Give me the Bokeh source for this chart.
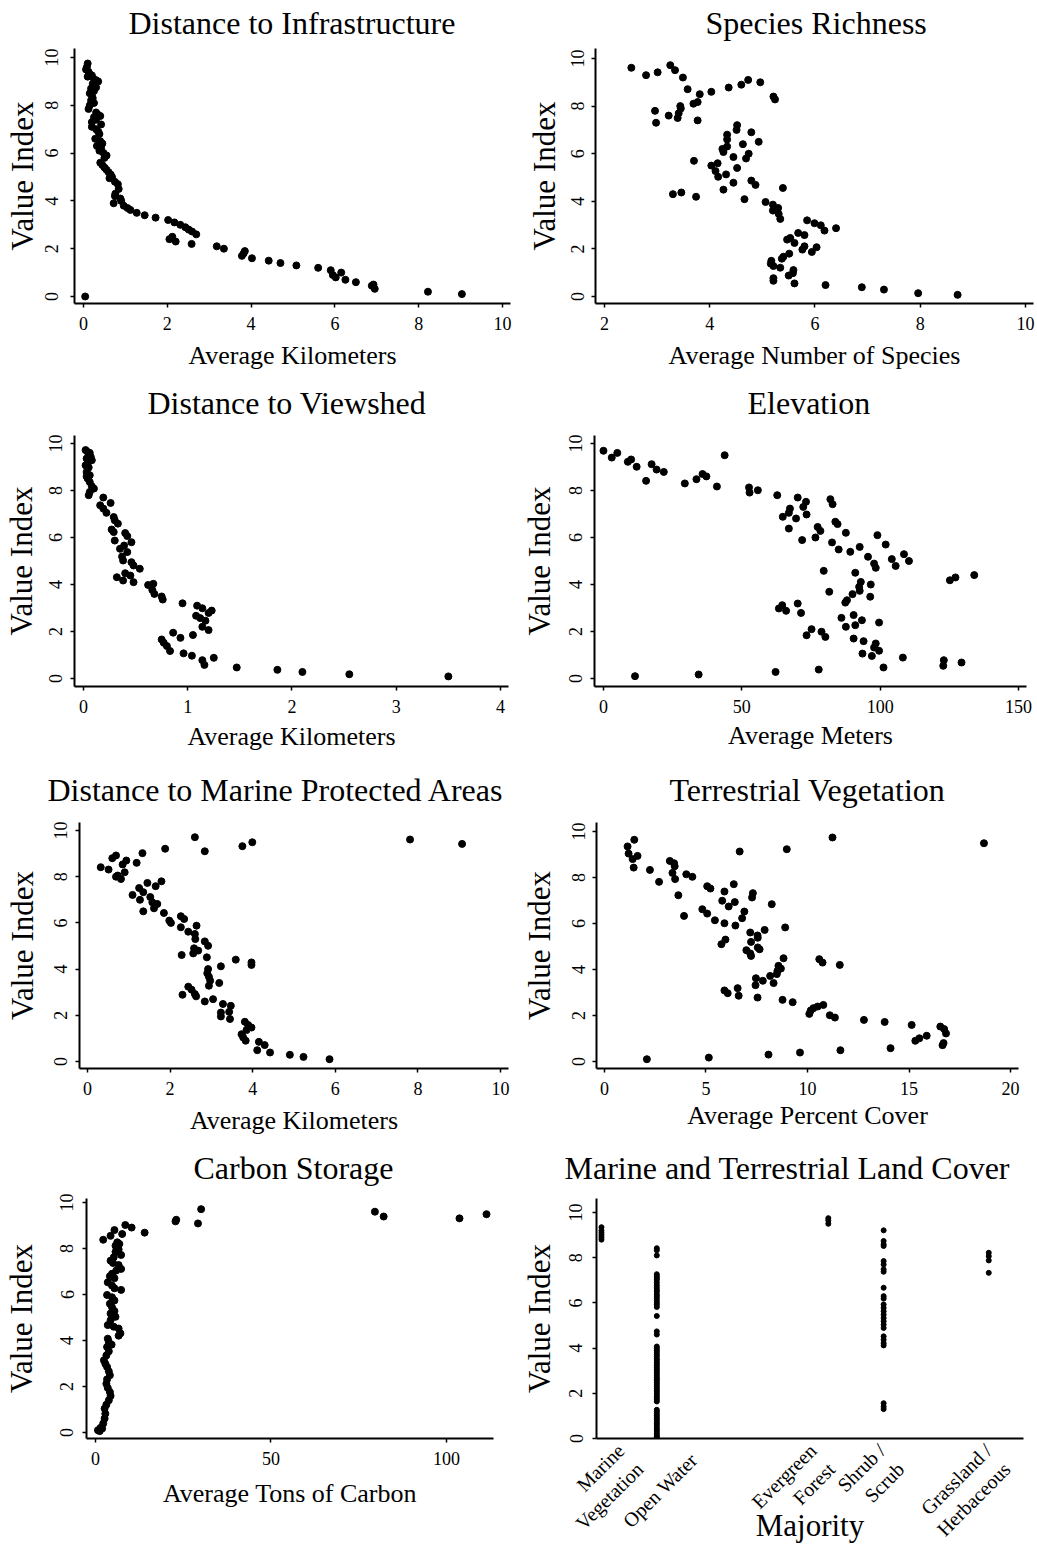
import math
from bokeh.plotting import figure
from bokeh.layouts import column, row
from bokeh.models import FixedTicker, Range1d, Title, LinearAxis
from bokeh.embed import file_html
from bokeh.resources import INLINE

FONT = "Liberation Serif"

# ---------------- data (x value, value index) ----------------
INFRA = [(0.04, 0.0), (0.10, 9.75), (0.08, 9.6), (0.06, 9.5), (0.12, 9.4), (0.15, 9.3), (0.10, 9.2), (0.20, 9.25),
         (0.25, 9.1), (0.30, 9.05), (0.35, 9.0), (0.22, 8.9), (0.28, 8.8), (0.18, 8.7), (0.30, 8.75), (0.25, 8.6),
         (0.15, 8.5), (0.20, 8.4), (0.22, 8.3), (0.18, 8.2), (0.25, 8.1), (0.15, 8.0), (0.12, 7.85), (0.30, 7.7),
         (0.35, 7.6), (0.40, 7.55), (0.25, 7.5), (0.30, 7.4), (0.20, 7.3), (0.42, 7.2), (0.20, 7.1), (0.30, 7.0),
         (0.35, 6.9), (0.38, 6.8), (0.28, 6.6), (0.40, 6.5), (0.45, 6.4), (0.32, 6.3), (0.42, 6.2), (0.38, 6.1),
         (0.48, 6.0), (0.55, 5.9), (0.50, 5.8), (0.40, 5.6), (0.45, 5.5), (0.50, 5.4), (0.55, 5.3), (0.60, 5.2),
         (0.65, 5.1), (0.68, 5.0), (0.62, 4.95), (0.75, 4.8), (0.82, 4.7), (0.84, 4.5), (0.76, 4.3), (0.75, 4.2),
         (0.88, 4.1), (0.90, 4.0), (0.72, 3.9), (0.96, 3.8), (1.05, 3.7), (1.12, 3.62), (1.27, 3.5), (1.46, 3.4),
         (1.72, 3.3), (2.02, 3.2), (2.17, 3.1), (2.31, 3.0), (2.43, 2.9), (2.51, 2.8), (2.59, 2.72), (2.69, 2.6),
         (2.05, 2.4), (2.12, 2.5), (2.20, 2.3), (2.58, 2.2), (3.18, 2.1), (3.35, 2.0), (3.85, 1.9), (3.82, 1.8),
         (3.78, 1.7), (4.02, 1.6), (4.42, 1.5), (4.70, 1.4), (5.08, 1.3), (5.60, 1.2), (5.90, 1.1), (6.15, 1.0),
         (5.95, 0.9), (6.02, 0.8), (6.25, 0.7), (6.50, 0.6), (6.88, 0.45), (6.92, 0.5), (6.95, 0.32), (8.22, 0.2),
         (9.03, 0.1)]

SPECIES = [(2.51, 9.61), (2.79, 9.3), (3.01, 9.42), (3.25, 9.72), (3.34, 9.51), (3.49, 9.2), (3.58, 8.71), (3.81, 8.5),
           (4.03, 8.6), (4.36, 8.78), (4.60, 8.9), (4.73, 9.1), (4.96, 9.0), (5.21, 8.4), (5.24, 8.28), (2.96, 7.8),
           (2.98, 7.3), (3.22, 7.6), (3.44, 8.0), (3.45, 7.9), (3.41, 7.7), (3.39, 7.5), (3.69, 8.1), (3.77, 8.17),
           (3.77, 7.4), (4.52, 7.2), (4.51, 7.0), (4.33, 6.8), (4.33, 6.6), (4.79, 6.9), (4.93, 6.5), (4.63, 6.4),
           (4.24, 6.2), (4.26, 6.07), (4.33, 6.3), (4.45, 5.86), (4.74, 6.0), (4.69, 5.8), (3.70, 5.7), (4.03, 5.5),
           (4.15, 5.6), (4.11, 5.27), (4.16, 5.03), (4.31, 5.13), (4.52, 5.4), (4.45, 4.78), (4.79, 4.87), (4.87, 4.69),
           (5.39, 4.56), (4.26, 4.49), (3.30, 4.3), (3.46, 4.37), (3.74, 4.19), (4.66, 4.09), (5.06, 3.97), (5.20, 3.86),
           (5.30, 3.72), (5.20, 3.61), (5.34, 3.26), (5.31, 3.47), (5.85, 3.2), (5.99, 3.08), (6.11, 2.99), (6.18, 2.77),
           (6.40, 2.87), (5.68, 2.67), (5.80, 2.58), (5.47, 2.39), (5.53, 2.46), (5.61, 2.25), (5.80, 2.11), (5.76, 1.97),
           (6.03, 2.07), (5.94, 1.87), (5.40, 1.67), (5.37, 1.59), (5.51, 1.8), (5.17, 1.5), (5.16, 1.38), (5.21, 1.28),
           (5.34, 1.21), (5.59, 1.11), (5.58, 0.98), (5.50, 0.88), (5.21, 0.77), (5.21, 0.66), (5.61, 0.55), (6.20, 0.48),
           (6.89, 0.39), (7.31, 0.29), (7.96, 0.14), (8.71, 0.07)]

VIEWSHED = [(0.02, 9.72), (0.04, 9.64), (0.06, 9.6), (0.07, 9.43), (0.03, 9.36), (0.08, 9.29), (0.04, 9.15), (0.05, 8.98),
            (0.03, 8.79), (0.06, 8.65), (0.04, 8.51), (0.06, 8.36), (0.08, 8.18), (0.10, 8.08), (0.06, 7.94), (0.05, 7.8),
            (0.02, 9.07), (0.03, 8.6), (0.19, 7.7), (0.26, 7.47), (0.16, 7.37), (0.19, 7.23), (0.22, 7.05), (0.29, 6.87),
            (0.30, 6.73), (0.33, 6.59), (0.27, 6.34), (0.29, 6.23), (0.40, 6.19), (0.42, 6.06), (0.30, 5.87), (0.46, 5.8),
            (0.39, 5.66), (0.35, 5.52), (0.42, 5.38), (0.37, 5.19), (0.38, 5.02), (0.46, 4.95), (0.48, 4.81), (0.54, 4.67),
            (0.40, 4.48), (0.45, 4.38), (0.32, 4.31), (0.38, 4.17), (0.48, 4.1), (0.62, 3.98), (0.67, 4.03), (0.66, 3.77),
            (0.68, 3.6), (0.75, 3.49), (0.76, 3.36), (0.95, 3.2), (1.09, 3.1), (1.14, 2.99), (1.08, 2.67), (1.12, 2.57),
            (1.17, 2.46), (1.23, 2.89), (1.20, 2.79), (1.14, 2.2), (1.20, 2.06), (0.86, 1.95), (0.93, 1.73), (1.05, 1.85),
            (0.75, 1.66), (0.77, 1.52), (0.80, 1.38), (0.83, 1.17), (0.96, 1.07), (1.04, 0.97), (1.14, 0.78), (1.16, 0.58),
            (1.25, 0.88), (1.47, 0.47), (1.86, 0.37), (2.10, 0.28), (2.55, 0.18), (3.50, 0.09)]

ELEVATION = [(0, 9.69), (3, 9.4), (5, 9.6), (8.8, 9.22), (10, 9.32), (12, 9.01), (17.4, 9.12), (19.2, 8.89), (21.8, 8.79),
             (15.4, 8.41), (29.4, 8.3), (33.6, 8.48), (35.8, 8.7), (37.2, 8.6), (43.8, 9.5), (41, 8.17), (52.6, 8.13),
             (52.8, 7.91), (55.8, 8.01), (62.8, 7.8), (70.2, 7.7), (73.2, 7.52), (72.2, 7.3), (73.4, 6.98), (67.4, 7.23),
             (67, 7.05), (64.8, 6.88), (69.6, 6.81), (67, 6.38), (71.8, 5.89), (82, 7.63), (82.8, 7.42), (83.8, 6.67),
             (84.6, 6.57), (77.4, 6.45), (78.4, 6.28), (76.6, 6.0), (82.6, 5.79), (85, 5.49), (87.6, 6.2), (89.2, 5.39),
             (92.6, 5.6), (99, 6.1), (95.6, 5.18), (97.8, 4.89), (98.4, 4.71), (102, 5.7), (104.2, 5.08), (105.6, 4.79),
             (108.6, 5.29), (110.4, 5.0), (79.6, 4.58), (91, 4.5), (93, 4.11), (96.6, 4.0), (92.4, 3.9), (92.6, 3.73),
             (81.6, 3.69), (90, 3.59), (88, 3.33), (87.4, 3.23), (96.4, 3.48), (125.2, 4.18), (127.2, 4.3), (134, 4.4),
             (64.6, 3.12), (63.4, 2.98), (66, 2.88), (70.2, 3.19), (71.4, 2.79), (86, 2.58), (90.4, 2.7), (93.4, 2.48),
             (91, 2.27), (87.6, 2.2), (99.6, 2.38), (75.2, 2.1), (73.4, 1.84), (78.8, 1.99), (80.2, 1.77), (90.4, 1.7),
             (94, 1.59), (98.4, 1.49), (97.8, 1.32), (99.6, 1.18), (97, 0.96), (93.6, 1.06), (108.2, 0.89), (123, 0.78),
             (122.8, 0.54), (129.4, 0.68), (101.2, 0.47), (77.8, 0.38), (62.2, 0.28), (34.4, 0.17), (11.4, 0.1)]

MPA = [(2.60, 9.71), (2.84, 9.1), (3.75, 9.32), (3.99, 9.49), (7.81, 9.61), (9.07, 9.42), (1.88, 9.21), (1.33, 9.02),
       (0.69, 8.92), (0.60, 8.8), (0.94, 8.7), (0.85, 8.53), (1.19, 8.6), (0.32, 8.41), (0.51, 8.31), (0.90, 8.19),
       (0.73, 8.05), (0.81, 7.9), (0.69, 8.0), (1.79, 7.8), (1.65, 7.59), (1.45, 7.73), (1.25, 7.51), (1.35, 7.33),
       (1.09, 7.21), (1.27, 7.0), (1.52, 7.12), (1.57, 6.89), (1.69, 6.82), (1.61, 6.63), (1.35, 6.5), (1.85, 6.43),
       (1.98, 6.1), (2.02, 6.0), (2.26, 6.29), (2.34, 6.17), (2.26, 5.81), (2.44, 5.62), (2.64, 5.88), (2.60, 5.52),
       (2.61, 5.3), (2.84, 5.2), (2.92, 5.01), (2.58, 4.9), (2.68, 4.8), (2.56, 4.68), (2.28, 4.61), (2.89, 4.51),
       (3.59, 4.41), (3.97, 4.29), (3.97, 4.18), (3.23, 4.12), (2.92, 4.0), (2.90, 3.82), (2.94, 3.67), (2.97, 3.5),
       (3.19, 3.4), (2.94, 3.28), (2.30, 2.89), (2.44, 3.24), (2.52, 3.11), (2.60, 2.92), (2.63, 2.82), (2.84, 2.6),
       (3.04, 2.7), (3.28, 2.49), (3.47, 2.41), (3.23, 2.12), (3.23, 1.95), (3.43, 2.15), (3.45, 1.84), (3.81, 1.72),
       (3.89, 1.58), (3.97, 1.47), (3.85, 1.36), (3.73, 1.18), (3.77, 1.04), (3.83, 0.9), (4.15, 0.85), (4.29, 0.71),
       (4.11, 0.49), (4.42, 0.39), (4.90, 0.29), (5.23, 0.2), (5.86, 0.1)]

VEGETATION = [(1.47, 9.64), (1.14, 9.35), (1.19, 9.04), (1.63, 8.94), (1.39, 8.8), (1.44, 8.43), (2.24, 8.33), (2.69, 7.81),
              (3.22, 8.72), (3.43, 8.62), (3.46, 8.49), (3.35, 8.2), (3.48, 7.93), (4.03, 8.14), (4.33, 8.03), (3.64, 7.23),
              (3.92, 6.33), (6.66, 9.13), (8.98, 9.23), (11.23, 9.74), (18.69, 9.49), (5.06, 7.62), (5.22, 7.52),
              (5.91, 7.39), (6.37, 7.71), (5.80, 6.99), (7.31, 7.32), (7.27, 7.13), (8.24, 6.84), (6.42, 6.93),
              (6.12, 6.74), (6.89, 6.52), (4.82, 6.62), (5.06, 6.43), (5.44, 6.14), (5.91, 6.01), (6.78, 6.23),
              (6.45, 5.91), (7.18, 5.61), (7.89, 5.72), (8.90, 5.83), (7.54, 5.48), (7.55, 5.38), (7.22, 5.2),
              (5.96, 5.3), (5.76, 5.1), (7.55, 4.96), (7.64, 4.88), (6.99, 4.84), (7.18, 4.7), (7.22, 4.59), (8.82, 4.49),
              (8.57, 4.16), (8.69, 4.04), (8.52, 3.94), (8.49, 3.8), (8.16, 3.72), (8.33, 3.41), (7.80, 3.51),
              (7.46, 3.62), (7.44, 3.32), (10.58, 4.45), (10.74, 4.3), (11.59, 4.2), (5.91, 3.09), (6.07, 2.97),
              (6.56, 3.19), (6.61, 2.86), (7.54, 2.78), (8.77, 2.68), (9.27, 2.58), (10.09, 2.07), (10.16, 2.22),
              (10.29, 2.32), (10.50, 2.39), (10.78, 2.46), (11.10, 2.01), (11.35, 1.91), (12.78, 1.81), (13.80, 1.72),
              (15.13, 1.59), (16.54, 1.52), (16.73, 1.41), (16.82, 1.22), (15.87, 1.12), (15.51, 1.01), (15.31, 0.9),
              (16.70, 0.8), (16.65, 0.71), (14.09, 0.58), (11.62, 0.49), (9.63, 0.39), (8.08, 0.3), (5.14, 0.17),
              (2.09, 0.1)]

CARBON = [(2.2, 8.38), (22.8, 9.18), (23.0, 9.25), (29.2, 9.09), (30.1, 9.71), (79.6, 9.6), (82.1, 9.39), (103.7, 9.31),
          (111.4, 9.49), (8.5, 9.02), (10.3, 8.91), (14.0, 8.69), (7.6, 8.63), (5.4, 8.8), (4.3, 8.55), (6.2, 8.27),
          (5.7, 8.12), (6.8, 8.2), (6.6, 7.96), (5.7, 7.85), (7.3, 7.72), (5.2, 7.62), (4.3, 7.47), (5.0, 7.37),
          (6.6, 7.28), (7.3, 7.11), (5.9, 7.04), (4.7, 6.9), (4.1, 6.79), (5.4, 6.71), (3.5, 6.53), (4.7, 6.39),
          (5.4, 6.27), (7.3, 6.2), (3.3, 5.98), (4.7, 5.88), (5.4, 5.74), (4.1, 5.6), (4.7, 5.45), (5.4, 5.28),
          (4.3, 5.17), (5.7, 5.03), (4.3, 4.88), (3.5, 4.67), (5.2, 4.6), (6.6, 4.52), (7.1, 4.31), (6.6, 4.21),
          (3.5, 4.08), (3.8, 3.94), (4.6, 3.82), (3.3, 3.72), (3.8, 3.53), (3.1, 3.35), (2.4, 3.14), (2.8, 2.99),
          (3.3, 2.85), (3.8, 2.66), (4.1, 2.49), (3.3, 2.31), (3.1, 2.12), (3.5, 1.94), (4.1, 1.76), (4.3, 1.59),
          (3.8, 1.4), (3.1, 1.21), (2.6, 1.04), (2.8, 0.82), (2.6, 0.61), (2.2, 0.39), (1.4, 0.2), (0.7, 0.1),
          (1.2, 0.06), (1.9, 0.17)]

# land cover: class code -> value indices
COVER_CODES = [1, 11, 42, 52, 71]
COVER_NAMES = ["Marine\nVegetation", "Open Water", "Evergreen\nForest", "Shrub /\nScrub", "Grassland /\nHerbaceous"]
COVER_VALUES = [
    [9.35, 9.2, 9.1, 9.0, 8.9, 8.8],
    [8.42, 8.33, 8.1, 7.27, 7.18, 7.1, 7.02, 6.9, 6.78, 6.67, 6.57, 6.49, 6.38, 6.3, 6.2, 6.1, 6.0, 5.92, 5.82,
     5.42, 4.74, 4.6, 4.07, 3.98, 3.9, 3.82, 3.72, 3.64, 3.53, 3.47, 3.38, 3.3, 3.22, 3.13, 3.05, 2.98, 2.89, 2.8,
     2.71, 2.63, 2.57, 2.48, 2.4, 2.31, 2.22, 2.14, 2.06, 1.97, 1.88, 1.8, 1.72, 1.64, 1.27, 1.19, 1.1, 1.02, 0.93,
     0.85, 0.77, 0.68, 0.6, 0.5, 0.41, 0.33, 0.24, 0.16, 0.09, 0.03],
    [9.75, 9.65, 9.5],
    [9.21, 8.74, 8.59, 8.52, 7.85, 7.7, 7.48, 7.38, 6.67, 6.3, 6.19, 5.93, 5.78, 5.63, 5.48, 5.33, 5.19, 5.04, 4.89,
     4.52, 4.37, 4.22, 4.12, 1.56, 1.41, 1.3],
    [8.22, 8.07, 7.88, 7.33],
]
# axis positions at which each category's (rotated) label ends
COVER_LABEL_AT = [6.2, 17.7, 40.9, 53.4, 72.6]

Y_TICKS = [0, 2, 4, 6, 8, 10]


def make_panel(W, H, borders, xr, yr, xticks, title, t_off, t_gap, xtitle, x_als, ystand, y_als):
    bl, br, bt, bb = borders
    p = figure(width=W, height=H, x_range=Range1d(*xr), y_range=Range1d(*yr), title=None,
               output_backend="svg", toolbar_location=None, tools="",
               min_border_left=bl, min_border_right=br, min_border_top=bt, min_border_bottom=bb)
    p.outline_line_color = None
    p.grid.grid_line_color = None
    p.background_fill_color = "white"
    p.border_fill_color = "white"
    xb = p.below[0]
    yl = p.left[0]
    for ax in (xb, yl):
        ax.axis_line_width = 2
        ax.axis_line_color = "black"
        ax.major_tick_line_width = 1.5
        ax.major_tick_line_color = "black"
        ax.major_tick_out = 4
        ax.major_tick_in = 0
        ax.minor_tick_out = 0
        ax.minor_tick_in = 0
        ax.major_label_text_font = FONT
        ax.major_label_text_font_size = "18px"
        ax.major_label_text_color = "black"
        ax.axis_label_text_font = FONT
        ax.axis_label_text_font_style = "normal"
        ax.axis_label_text_color = "black"
    xb.ticker = FixedTicker(ticks=xticks)
    yl.ticker = FixedTicker(ticks=Y_TICKS)
    yl.major_label_orientation = "vertical"
    yl.major_label_standoff = ystand
    xb.major_label_standoff = 9
    xb.axis_label = xtitle
    xb.axis_label_text_font_size = "26px"
    xb.axis_label_standoff = x_als
    yl.axis_label = "Value Index"
    yl.axis_label_text_font_size = "31px"
    yl.axis_label_standoff = y_als
    # invisible spacer between frame and title
    t0 = xticks[0]
    spacer = LinearAxis(ticker=FixedTicker(ticks=[t0]), major_label_overrides={t0: ""},
                        axis_line_color=None, major_tick_line_color=None, major_tick_out=t_gap,
                        major_tick_in=0, minor_tick_out=0, minor_tick_in=0, major_label_standoff=0,
                        major_label_text_font_size="1px")
    p.add_layout(spacer, "above")
    p.add_layout(Title(text=title, align="left", offset=t_off, standoff=0, text_font=FONT,
                       text_font_size="32px", text_font_style="normal", text_color="black"), "above")
    return p, xb


def scatter(p, pairs, size=7):
    xs = [a for a, b in pairs]
    ys = [b for a, b in pairs]
    p.scatter(xs, ys, size=size, marker="circle", fill_color="black", line_color="black")


# row 1
p1, _ = make_panel(518, 380, (74, 8, 48, 77), (-0.215, 10.19), (-0.293, 10.377), [0, 2, 4, 6, 8, 10],
                   "Distance to Infrastructure", 54, 8, "Average Kilometers", 8, 12, 3)
scatter(p1, INFRA)
p2, _ = make_panel(519, 380, (77, 4, 48, 77), (1.829, 10.152), (-0.294, 10.42), [2, 4, 6, 8, 10],
                   "Species Richness", 110, 8, "Average Number of Species", 8, 7, 7)
scatter(p2, SPECIES)

# row 2
p3, _ = make_panel(518, 385, (74, 10, 55, 79), (-0.0863, 4.077), (-0.34, 10.34), [0, 1, 2, 3, 4],
                   "Distance to Viewshed", 73, 15, "Average Kilometers", 6, 8, 8)
scatter(p3, VIEWSHED)
p4, _ = make_panel(519, 385, (74, 11, 55, 79), (-3.24, 152.88), (-0.34, 10.34), [0, 50, 100, 150],
                   "Elevation", 153, 15, "Average Meters", 5, 8, 10)
scatter(p4, ELEVATION)

# row 3
p5, _ = make_panel(518, 380, (79, 10, 57, 77), (-0.194, 10.194), (-0.303, 10.346), [0, 2, 4, 6, 8, 10],
                   "Distance to Marine Protected Areas", -32, 15, "Average Kilometers", 8, 8, 12)
scatter(p5, MPA)
p6, _ = make_panel(519, 380, (75, 19, 57, 77), (-0.391, 20.391), (-0.304, 10.391), [0, 5, 10, 15, 20],
                   "Terrestrial Vegetation", 73, 15, "Average Percent Cover", 3, 7, 13)
scatter(p6, VEGETATION)

# row 4
p7, _ = make_panel(518, 401, (86, 25, 53, 108), (-2.56, 113.39), (-0.261, 10.174), [0, 50, 100],
                   "Carbon Storage", 107, 13, "Average Tons of Carbon", 11, 9, 19)
scatter(p7, CARBON)
p8, xb8 = make_panel(519, 401, (75, 14, 53, 108), (0.10, 77.28), (0.0, 10.62), COVER_LABEL_AT,
                     "Marine and Terrestrial Land Cover", -32, 13, "Majority", -52, 10, 10)
xb8.major_label_overrides = {t: n for t, n in zip(COVER_LABEL_AT, COVER_NAMES)}
xb8.major_label_orientation = math.pi / 4
xb8.major_label_text_font_size = "20px"
xb8.major_label_standoff = 18
xb8.major_tick_out = 0
xb8.major_tick_line_color = None
xb8.axis_label_text_font_size = "31px"
for code, vals in zip(COVER_CODES, COVER_VALUES):
    p8.scatter([code] * len(vals), vals, size=5, marker="circle", fill_color="black", line_color="black")

layout = column(row(p1, p2), row(p3, p4), row(p5, p6), row(p7, p8))

open("out.html", "w").write(file_html(layout, INLINE))
